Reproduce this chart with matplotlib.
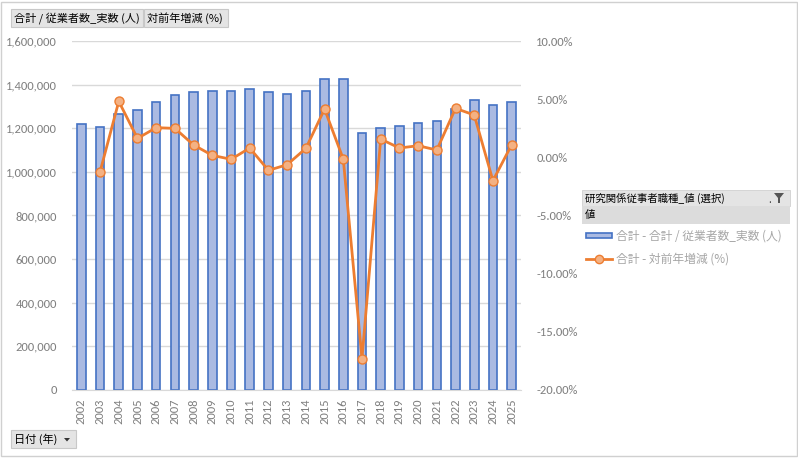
import matplotlib
matplotlib.use("Agg")
import matplotlib.pyplot as plt
from matplotlib import font_manager
from matplotlib.patches import Rectangle, Polygon
from matplotlib.ticker import FuncFormatter, MultipleLocator

plt.rcParams['font.family'] = ['Noto Sans CJK JP', 'DejaVu Sans']

years = [str(y) for y in range(2002, 2026)]
employees = [1220000, 1205000, 1264000, 1284000, 1319000, 1353000, 1367000, 1373000,
             1370000, 1381000, 1367000, 1359000, 1370000, 1428000, 1425000, 1180000,
             1200000, 1209000, 1225000, 1232000, 1286000, 1329000, 1306000, 1319000]
yoy_pct = [None, -1.24, 4.81, 1.63, 2.55, 2.49, 1.06, 0.17, -0.17, 0.80, -1.12, -0.63,
           0.77, 4.15, -0.15, -17.3, 1.57, 0.80, 1.00, 0.63, 4.21, 3.64, -2.01, 1.08]

W, H = 798, 458
fig = plt.figure(figsize=(W / 100, H / 100), dpi=100)

def fx(px):
    return px / W

def fy(py):
    return 1 - py / H

_names = {f.name for f in font_manager.fontManager.ttflist}
_tick_family = next((n for n in ['Carlito', 'Liberation Sans Narrow', 'Lato'] if n in _names), 'DejaVu Sans')
TICK_FONT = [_tick_family, 'DejaVu Sans']
TICK_COLOR = '#7F7F7F'
TICK_SIZE = 9 if _tick_family == 'Carlito' else 8

# outer border
fig.patches.append(Rectangle((fx(1), fy(456)), fx(796), 454 / H, transform=fig.transFigure,
                             fill=False, edgecolor='#D0D0D0', linewidth=1))

ax = fig.add_axes([fx(72), fy(390), fx(521 - 72), (390 - 41) / H])
x = list(range(len(years)))
ax.bar(x, employees, width=0.46, color='#AABAE2', edgecolor='#4472C4', linewidth=1.2, zorder=2)
ax.set_xlim(-0.5, len(years) - 0.5)
ax.set_ylim(0, 1600000)
ax.yaxis.set_major_locator(MultipleLocator(200000))
ax.yaxis.set_major_formatter(FuncFormatter(lambda v, p: f"{int(v):,}"))
ax.grid(axis='y', color='#D9D9D9', linewidth=1, zorder=0)
ax.set_axisbelow(True)
for s in ['top', 'right', 'left']:
    ax.spines[s].set_visible(False)
ax.spines['bottom'].set_color('#D9D9D9')
ax.set_xticks(x)
ax.set_xticklabels(years, rotation=90)
ax.tick_params(axis='both', length=0, colors=TICK_COLOR, labelsize=TICK_SIZE)
ax.tick_params(axis='y', pad=11)
ax.tick_params(axis='x', pad=6)
for lab in ax.get_xticklabels() + ax.get_yticklabels():
    lab.set_family(TICK_FONT)

ax2 = ax.twinx()
xs = [i for i, v in enumerate(yoy_pct) if v is not None]
ys = [v for v in yoy_pct if v is not None]
ax2.plot(xs, ys, color='#ED7D31', linewidth=2, marker='o', markersize=6.5,
         markerfacecolor='#F4B183', markeredgecolor='#ED7D31', markeredgewidth=1, zorder=3)
ax2.set_ylim(-20, 10)
ax2.yaxis.set_major_locator(MultipleLocator(5))
ax2.yaxis.set_major_formatter(FuncFormatter(lambda v, p: f"{v:.2f}%"))
for s in ['top', 'right', 'left', 'bottom']:
    ax2.spines[s].set_visible(False)
ax2.tick_params(axis='y', length=0, colors=TICK_COLOR, labelsize=TICK_SIZE, pad=11)
for lab in ax2.get_yticklabels():
    lab.set_family(TICK_FONT)

# field buttons
def button(x0, y0, x1, y1, text, arrow=False):
    fig.patches.append(Rectangle((fx(x0), fy(y1)), fx(x1 - x0), (y1 - y0) / H,
                                 transform=fig.transFigure, facecolor='#E4E4E4',
                                 edgecolor='#C8C8C8', linewidth=0.8))
    fig.text(fx(x0 + 3), fy((y0 + y1) / 2), text, fontsize=8, color='#000000',
             va='center', ha='left')
    if arrow:
        cx, cy = x1 - 9, (y0 + y1) / 2 + 1
        fig.patches.append(Polygon([(fx(cx - 3), fy(cy - 2)), (fx(cx + 3), fy(cy - 2)),
                                    (fx(cx), fy(cy + 1.5))], closed=True,
                                   transform=fig.transFigure, facecolor='#333333',
                                   edgecolor='none'))

button(11, 9, 143, 27, '合計 / 従業者数_実数 (人)')
button(144, 9, 228, 27, '対前年増減 (%)')
button(11, 430, 76, 448, '日付 (年)', arrow=True)

# legend panel
fig.patches.append(Rectangle((fx(582), fy(206)), fx(790 - 582), 16 / H, transform=fig.transFigure,
                             facecolor='#E4E4E4', edgecolor='#D0D0D0', linewidth=0.6))
fig.text(fx(585), fy(198), '研究関係従事者職種_値 (選択)', fontsize=7.5, va='center', ha='left')
# filter icon
fc = 779
fig.patches.append(Polygon([(fx(fc - 5), fy(193)), (fx(fc + 5), fy(193)), (fx(fc + 1), fy(198)),
                            (fx(fc + 1), fy(203)), (fx(fc - 1), fy(203)), (fx(fc - 1), fy(198))],
                           closed=True, transform=fig.transFigure, facecolor='#555555',
                           edgecolor='none'))
fig.text(fx(770), fy(200), '.', fontsize=7, va='center', ha='center', color='#333333')
fig.patches.append(Rectangle((fx(582), fy(224)), fx(790 - 582), 18 / H, transform=fig.transFigure,
                             facecolor='#DCDCDC', edgecolor='none'))
fig.text(fx(585), fy(215), '値', fontsize=7.5, va='center', ha='left')

# legend entries
fig.patches.append(Rectangle((fx(586), fy(238.5)), fx(26), 5 / H, transform=fig.transFigure,
                             facecolor='#AABAE2', edgecolor='#4472C4', linewidth=1.2))
fig.text(fx(616), fy(236), '合計 - 合計 / 従業者数_実数 (人)', fontsize=8.5, color='#A6A6A6',
         va='center', ha='left')
fig.lines.append(plt.Line2D([fx(586), fx(612)], [fy(259), fy(259)], transform=fig.transFigure,
                            color='#ED7D31', linewidth=2, marker=None))
fig.lines.append(plt.Line2D([fx(599)], [fy(259)], transform=fig.transFigure, color='#ED7D31',
                            marker='o', markersize=6, markerfacecolor='#F4B183',
                            markeredgecolor='#ED7D31'))
fig.text(fx(616), fy(259), '合計 - 対前年増減 (%)', fontsize=8.5, color='#A6A6A6',
         va='center', ha='left')

fig.savefig('out.png', dpi=100)
